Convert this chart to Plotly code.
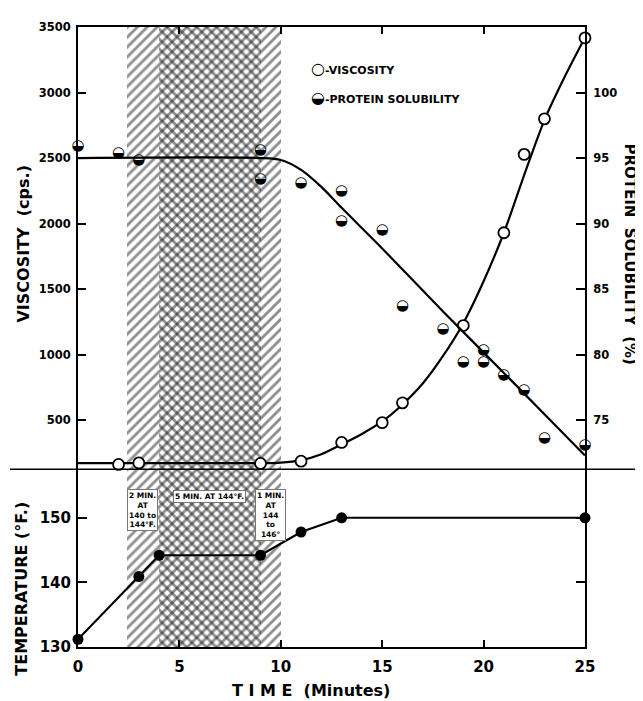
import plotly.graph_objects as go

# ---------------- data ----------------
visc_time = [0, 2, 3, 9, 11, 13, 15, 16, 19, 21, 22, 23, 25]
visc_vals = [122, 162, 174, 170, 187, 330, 481, 632, 1222, 1930, 2528, 2799, 3417]

visc_fit_time = [0, 9, 10, 11, 12, 13, 14, 15, 16, 17, 18, 19, 20, 21, 22, 23, 24, 25]
visc_fit_vals = [172, 172, 176, 195, 240, 315, 395, 490, 620, 780, 990, 1240, 1560, 1930, 2370, 2790, 3120, 3420]

prot_time = [0, 2, 3, 9, 9, 11, 13, 13, 15, 16, 18, 19, 20, 20, 21, 22, 23, 25]
prot_vals = [95.9, 95.4, 94.8, 95.6, 93.4, 93.1, 92.5, 90.2, 89.5, 83.7, 81.9, 79.4, 80.3, 79.4, 78.4, 77.3, 73.6, 73.1]

prot_fit_time = [0, 9, 10, 11, 12, 13, 15, 18, 21, 25]
prot_fit_vals = [95.0, 95.0, 94.85, 94.1, 92.8, 91.2, 88.1, 83.3, 78.6, 72.3]

temp_time = [0, 3, 4, 9, 11, 13, 25]
temp_vals = [131.2, 140.9, 144.2, 144.2, 147.8, 150, 150]

# heating stages (minutes)
stage_start = [2.4, 4.0]
stage_end = [10.0, 9.0]
stage_hatch = ["/", "\\"]

stage_labels = ["2 MIN.<br>AT<br>140 to<br>144°F.", "5 MIN. AT 144°F.", "1 MIN.<br>AT<br>144<br>to<br>146°"]
stage_label_x = [3.2, 6.5, 9.5]
stage_label_y = [151.2, 153.3, 150.5]

x_ticks = [0, 5, 10, 15, 20, 25]
visc_ticks = [500, 1000, 1500, 2000, 2500, 3000, 3500]
prot_ticks = [75, 80, 85, 90, 95, 100]
temp_ticks = [130, 140, 150]

VISC_RANGE = [125, 3500]
PROT_RANGE = [71.25, 105]
TEMP_RANGE = [130, 157.5]

FONT = "DejaVu Sans"
SPLIT = 0.2866

# the page body adds an 8 px offset, so the figure is sized 8 px smaller
W, H, L, R, T, B = 635, 693, 70, 58, 12, 54
OFF = 8
PLOT_W = W - L - R
PLOT_H = H - T - B


def px(xs):
    return (xs - OFF - L) / PLOT_W


def py(ys):
    return (H - B - (ys - OFF)) / PLOT_H


fig = go.Figure()

# hatched heating-stage bands (both panels)
for s0, s1, h in zip(stage_start, stage_end, stage_hatch):
    for xa, ya, rng in (("x2", "y", VISC_RANGE), ("x", "y3", TEMP_RANGE)):
        fig.add_trace(go.Bar(
            x=[(s0 + s1) / 2], width=[s1 - s0], base=[rng[0]], y=[rng[1] - rng[0]],
            xaxis=xa, yaxis=ya, showlegend=False, hoverinfo="skip",
            marker=dict(color="rgba(0,0,0,0)", line=dict(width=0),
                        pattern=dict(shape=h, size=7, solidity=0.4, fgcolor="#1e1e1e",
                                     fillmode="overlay")),
        ))

# fitted curves
fig.add_trace(go.Scatter(x=visc_fit_time, y=visc_fit_vals, xaxis="x2", yaxis="y", mode="lines",
                         line=dict(color="black", width=2.2, shape="spline", smoothing=0.8),
                         showlegend=False, hoverinfo="skip"))
fig.add_trace(go.Scatter(x=prot_fit_time, y=prot_fit_vals, xaxis="x2", yaxis="y2", mode="lines",
                         line=dict(color="black", width=2.2, shape="spline", smoothing=0.8),
                         showlegend=False, hoverinfo="skip"))

# viscosity points (open circles)
fig.add_trace(go.Scatter(x=visc_time, y=visc_vals, xaxis="x2", yaxis="y", mode="markers",
                         marker=dict(symbol="circle", size=11, color="white",
                                     line=dict(color="black", width=1.8)),
                         cliponaxis=False, name="VISCOSITY", showlegend=False))
# protein solubility points (half-filled circles)
fig.add_trace(go.Scatter(x=prot_time, y=prot_vals, xaxis="x2", yaxis="y2", mode="text",
                         text=["◒"] * len(prot_time), textposition="middle center",
                         textfont=dict(family=FONT, size=15, color="black"),
                         cliponaxis=False, name="PROTEIN SOLUBILITY", showlegend=False))

# temperature
fig.add_trace(go.Scatter(x=temp_time, y=temp_vals, xaxis="x", yaxis="y3", mode="lines+markers",
                         line=dict(color="black", width=2.2),
                         marker=dict(symbol="circle", size=11, color="black"),
                         cliponaxis=False, showlegend=False))

axis_common = dict(showline=True, linecolor="black", linewidth=2, showgrid=False, zeroline=False,
                   ticks="inside", tickcolor="black", tickwidth=1.6)

fig.update_layout(
    width=W, height=H,
    margin=dict(l=L, r=R, t=T, b=B),
    paper_bgcolor="white", plot_bgcolor="white",
    barmode="overlay", bargap=0,
    font=dict(family=FONT, color="black"),
    xaxis=dict(axis_common, domain=[0, 1], anchor="y3", range=[0, 25], tickvals=x_ticks,
               ticklen=7, ticklabelstandoff=5,
               tickfont=dict(family=FONT, size=15, weight="bold", color="black")),
    xaxis2=dict(axis_common, domain=[0, 1], anchor="y", range=[0, 25], side="top",
                tickvals=x_ticks[1:-1], ticklen=7, showticklabels=False),
    yaxis=dict(axis_common, domain=[SPLIT, 1], anchor="x2", range=VISC_RANGE, tickvals=visc_ticks,
               ticklen=8, ticklabelstandoff=3,
               tickfont=dict(family=FONT, size=11.5, weight="bold", color="black")),
    yaxis2=dict(axis_common, overlaying="y", side="right", anchor="x2", range=PROT_RANGE,
                tickvals=prot_ticks, ticklen=9, ticklabelstandoff=4,
                tickfont=dict(family=FONT, size=11.5, weight="bold", color="black")),
    yaxis3=dict(axis_common, domain=[0, SPLIT], anchor="x", range=TEMP_RANGE, tickvals=temp_ticks,
                ticklen=9, mirror="ticks", ticklabelstandoff=2,
                tickfont=dict(family=FONT, size=15, weight="bold", color="black")),
)

# divider line across the full width
fig.add_shape(type="line", xref="paper", yref="paper", x0=px(10), x1=px(643), y0=SPLIT, y1=SPLIT,
              line=dict(color="black", width=1.6))

# stage labels
for txt, lx, ly in zip(stage_labels, stage_label_x, stage_label_y):
    fig.add_annotation(x=lx, y=ly, xref="x", yref="y3", text=txt, showarrow=False,
                       xanchor="center", yanchor="middle",
                       font=dict(family=FONT, size=7.5, weight="bold", color="black"),
                       bgcolor="white", bordercolor="#777", borderwidth=1, borderpad=1)

# legend (text)
fig.add_annotation(x=px(309), y=py(62), xref="paper", yref="paper", xanchor="left", yanchor="middle",
                   showarrow=False,
                   text="<span style='font-size:16px'>○</span>-VISCOSITY",
                   font=dict(family=FONT, size=11, weight="bold", color="black"))
fig.add_annotation(x=px(309), y=py(91), xref="paper", yref="paper", xanchor="left", yanchor="middle",
                   showarrow=False,
                   text="<span style='font-size:16px'>◒</span>-PROTEIN SOLUBILITY",
                   font=dict(family=FONT, size=11, weight="bold", color="black"))

# axis titles
fig.add_annotation(x=px(24), y=py(240), xref="paper", yref="paper", showarrow=False, textangle=-90,
                   xanchor="center", yanchor="middle",
                   text="VISCOSITY  (cps.)", font=dict(family=FONT, size=16, weight="bold", color="black"))
fig.add_annotation(x=px(22), y=py(588), xref="paper", yref="paper", showarrow=False, textangle=-90,
                   xanchor="center", yanchor="middle",
                   text="TEMPERATURE (°F.)", font=dict(family=FONT, size=16, weight="bold", color="black"))
fig.add_annotation(x=px(630), y=py(250), xref="paper", yref="paper", showarrow=False, textangle=90,
                   xanchor="center", yanchor="middle",
                   text="PROTEIN  SOLUBILITY  (%)", font=dict(family=FONT, size=15, weight="bold", color="black"))
fig.add_annotation(x=px(311), y=py(691), xref="paper", yref="paper", showarrow=False,
                   xanchor="center", yanchor="middle",
                   text="T I M E  (Minutes)", font=dict(family=FONT, size=16, weight="bold", color="black"))

fig.write_html("out.html")
